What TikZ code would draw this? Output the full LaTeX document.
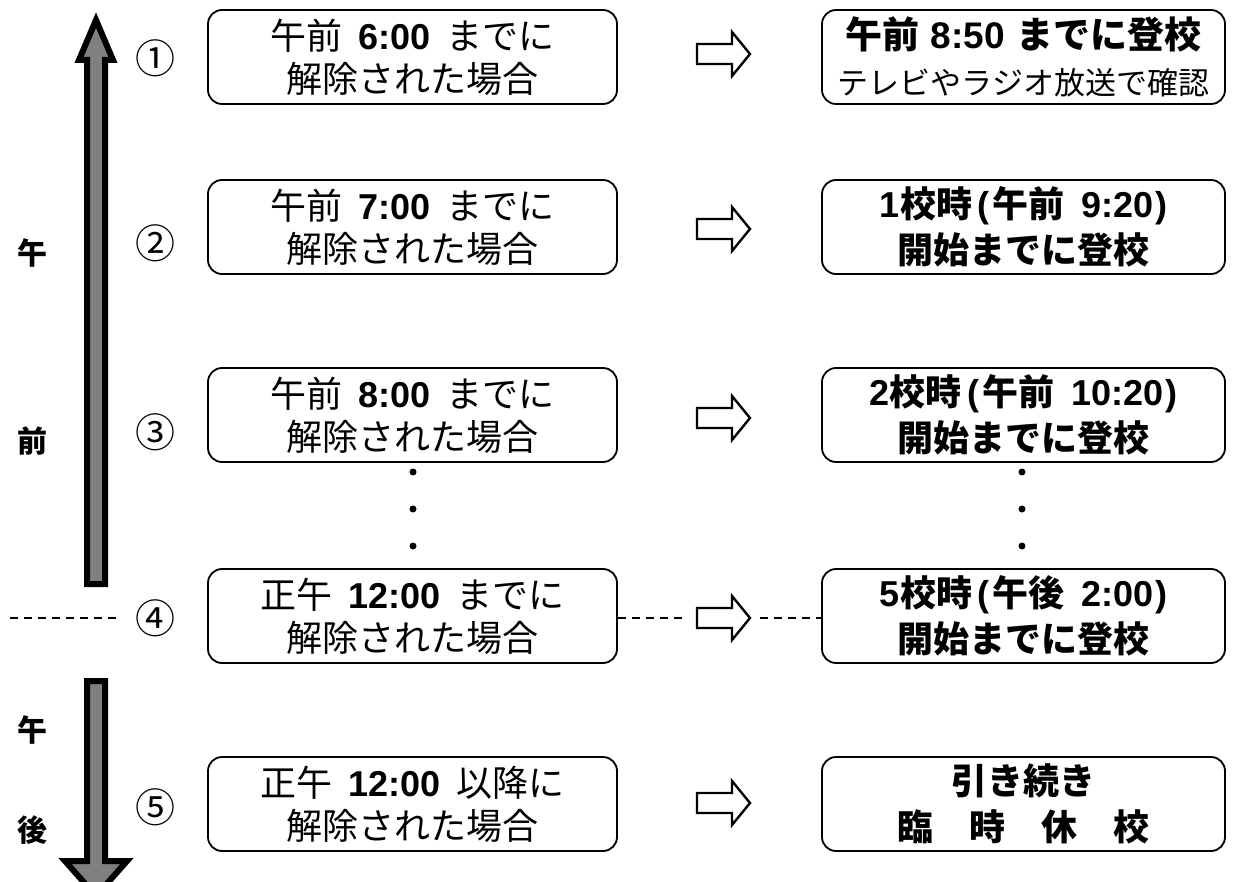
\documentclass[tikz,border=0pt]{standalone}
\usepackage{fontspec}
\setmainfont{Liberation Sans}
\newfontfamily\cjk{Noto Sans CJK JP}
\newfontfamily\lsans{Liberation Sans}
\usetikzlibrary{calc}
\tikzset{
  box/.style={draw, line width=1.8pt, rounded corners=14pt, minimum height=94pt, inner sep=0pt, align=center},
  lbox/.style={box, minimum width=409pt, font=\cjk\fontsize{36}{43}\selectfont},
  rbox/.style={box, minimum width=403pt, font=\cjk\bfseries\fontsize{36}{46}\selectfont},
  num/.style={font=\cjk\fontsize{40}{40}\selectfont, inner sep=0pt},
  side/.style={font=\cjk\bfseries\fontsize{30}{30}\selectfont, inner sep=0pt},
  rarrow/.pic={\draw[line width=2.4pt, miter limit=10] (-26,-10) -- (9,-10) -- (9,-22) -- (27,0) -- (9,22) -- (9,10) -- (-26,10) -- cycle;},
  dotnode/.style={circle, fill, inner sep=0pt, minimum size=7pt},
  dline/.style={dash pattern=on 8pt off 6pt, line width=1.2pt},
  bigarrow/.style={draw, fill=gray, line width=6pt, miter limit=10}
}
\newcommand{\gap}{\hspace{0.45em}}
\newcommand{\lp}{\hspace{0.15em}{\lsans(}\hspace{0.1em}}
\newcommand{\rp}{\hspace{0.05em}{\lsans)}}
\begin{document}
\begin{tikzpicture}[x=1pt,y=-1pt]
\useasboundingbox (0,0) rectangle (1234,882);
% time axis arrows
\draw[bigarrow] (87,584) -- (87,60) -- (79,60) -- (96,20) -- (113,60) -- (105,60) -- (105,584) -- cycle;
\draw[bigarrow] (87,681) -- (87,861) -- (65,861) -- (96,896) -- (127,861) -- (105,861) -- (105,681) -- cycle;
\node[side] (s1) at (32,253) {午};
\node[side] (s2) at (32,441) {前};
\node[side] (s3) at (32,730) {午};
\node[side] (s4) at (32,830) {後};
% numbers
\node[num] (n1) at (155,58) {①};
\node[num] (n2) at (155,243) {②};
\node[num] (n3) at (155,432) {③};
\node[num] (n4) at (155,618) {④};
\node[num] (n5) at (155,807) {⑤};
% left boxes
\node[lbox] (L1) at (412.5,57) {午前\gap{\lsans\bfseries 6:00}\gap までに\\解除された場合};
\node[lbox] (L2) at (412.5,227) {午前\gap{\lsans\bfseries 7:00}\gap までに\\解除された場合};
\node[lbox] (L3) at (412.5,415) {午前\gap{\lsans\bfseries 8:00}\gap までに\\解除された場合};
\node[lbox] (L4) at (412.5,616) {正午\gap{\lsans\bfseries 12:00}\gap までに\\解除された場合};
\node[lbox] (L5) at (412.5,804) {正午\gap{\lsans\bfseries 12:00}\gap 以降に\\解除された場合};
% arrows
\coordinate (A1) at (723,54);
\coordinate (A2) at (723,229);
\coordinate (A3) at (723,418);
\coordinate (A4) at (723,618);
\coordinate (A5) at (723,803);
\foreach \a in {A1,A2,A3,A4,A5} { \pic at (\a) {rarrow}; }
% right boxes
\node[rbox] (R1) at (1023.5,57) {{\fontsize{37}{46}\selectfont 午前\hspace{0.3em}{\lsans 8:50}\hspace{0.3em}までに登校}\\{\mdseries\fontsize{31}{46}\selectfont テレビやラジオ放送で確認}};
\node[rbox] (R2) at (1023.5,227) {{\lsans 1}校時\lp 午前\gap{\lsans 9:20}\rp\\開始までに登校};
\node[rbox] (R3) at (1023.5,415) {{\lsans 2}校時\lp 午前\gap{\lsans 10:20}\rp\\開始までに登校};
\node[rbox] (R4) at (1023.5,616) {{\lsans 5}校時\lp 午後\gap{\lsans 2:00}\rp\\開始までに登校};
\node[rbox] (R5) at (1023.5,804) {引き続き\\臨　時　休　校};
% dots
\node[dotnode] (dl1) at (413,472) {};
\node[dotnode] (dl2) at (413,509) {};
\node[dotnode] (dl3) at (413,546) {};
\node[dotnode] (dr1) at (1022,472) {};
\node[dotnode] (dr2) at (1022,509) {};
\node[dotnode] (dr3) at (1022,546) {};
% dashed noon line
\coordinate (noonA) at (10,618);
\coordinate (noonB) at (120,618);
\draw[dline] (noonA) -- (noonB);
\draw[dline] (L4.east |- noonA) -- ($(A4)+(-41,0)$);
\draw[dline] ($(A4)+(37,0)$) -- (R4.west |- noonA);
\end{tikzpicture}
\end{document}
